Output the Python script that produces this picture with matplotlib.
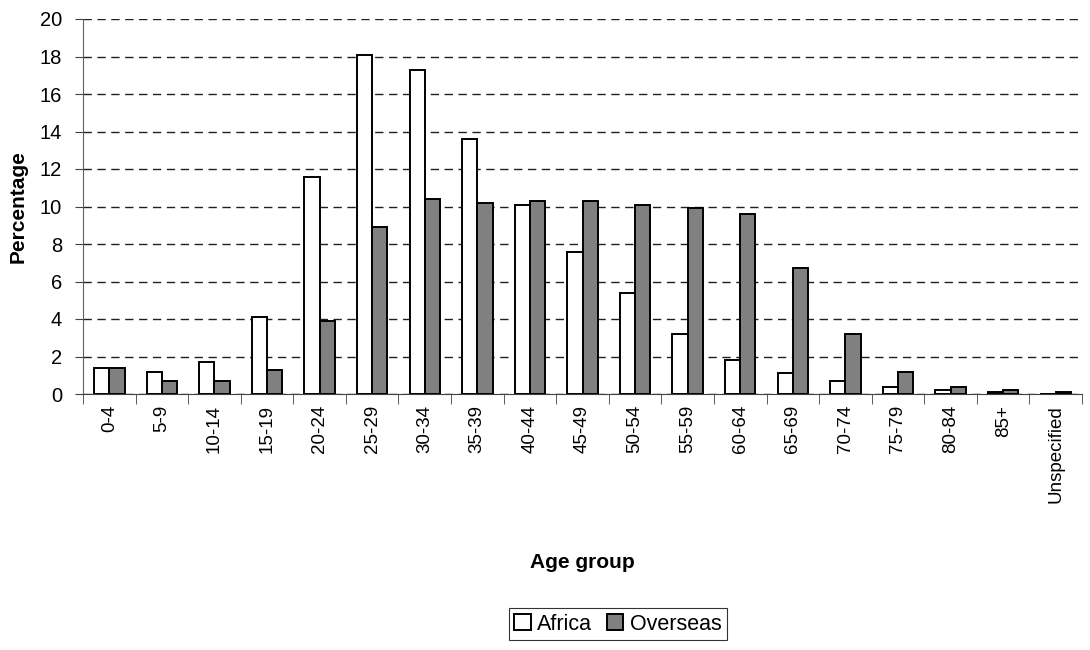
import matplotlib
matplotlib.use("Agg")
import matplotlib.pyplot as plt
import numpy as np

plt.rcParams['font.family'] = ['Liberation Sans', 'DejaVu Sans']

categories = ["0-4", "5-9", "10-14", "15-19", "20-24", "25-29", "30-34", "35-39",
              "40-44", "45-49", "50-54", "55-59", "60-64", "65-69", "70-74",
              "75-79", "80-84", "85+", "Unspecified"]
africa = [1.4, 1.2, 1.7, 4.1, 11.6, 18.1, 17.3, 13.6, 10.1, 7.6, 5.4, 3.2, 1.8,
          1.1, 0.7, 0.4, 0.2, 0.1, 0.0]
overseas = [1.4, 0.7, 0.7, 1.3, 3.9, 8.9, 10.4, 10.2, 10.3, 10.3, 10.1, 9.9, 9.6,
            6.7, 3.2, 1.2, 0.4, 0.2, 0.1]
yticks = list(range(0, 21, 2))

fig = plt.figure(figsize=(10.9, 6.5), dpi=100)
ax = fig.add_axes([83/1090, 1-394/650, (1082-83)/1090, (394-19)/650])

x = np.arange(len(categories))
w = 0.29
ax.bar(x - w/2, africa, w, color='white', edgecolor='black', linewidth=1.4, label='Africa', zorder=3)
ax.bar(x + w/2, overseas, w, color='#808080', edgecolor='black', linewidth=1.4, label='Overseas', zorder=3)

ax.set_xlim(-0.5, len(categories) - 0.5)
ax.set_ylim(0, 20)
ax.set_yticks(yticks)
ax.set_yticklabels([str(t) for t in yticks], fontsize=14.5)
ax.set_xticks(x)
ax.set_xticklabels(categories, rotation=90, fontsize=13.5)
ax.tick_params(axis='x', length=0, pad=8)
ax.set_xticks(np.arange(-0.5, len(categories), 1), minor=True)
ax.tick_params(axis='x', which='minor', length=7, direction='out', color='#404040')
ax.tick_params(axis='y', length=6, direction='out', color='#404040', pad=9)

ax.yaxis.grid(True, linestyle=(0, (6, 4)), color='#202020', linewidth=1.0, zorder=0)
ax.spines['top'].set_visible(False)
ax.spines['right'].set_visible(False)
ax.spines['left'].set_color('#606060')
ax.spines['bottom'].set_color('#404040')

ax.set_ylabel('Percentage', fontsize=15, fontweight='bold', labelpad=9)
fig.text((83+1082)/2/1090, 1-562/650, 'Age group', fontsize=15, fontweight='bold', ha='center', va='center')

leg = fig.legend(loc='center', bbox_to_anchor=(618/1090, 1-624/650), ncol=2, frameon=True,
                 fancybox=False, edgecolor='black', fontsize=15.5, handlelength=0.75, handleheight=0.75,
                 handletextpad=0.3, columnspacing=0.7, borderpad=0.25, borderaxespad=0)
leg.get_frame().set_linewidth(0.8)

fig.savefig('out.png', dpi=100)
